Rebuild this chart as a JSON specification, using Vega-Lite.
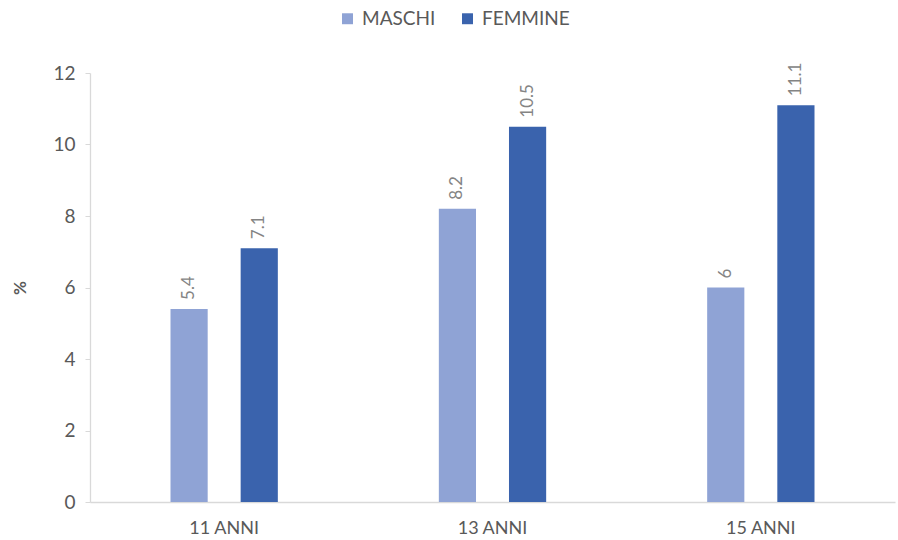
{
  "$schema": "https://vega.github.io/schema/vega-lite/v6.json",
  "autosize": "none",
  "padding": {"left": 90, "top": 73, "right": 3, "bottom": 38},
  "width": 805,
  "height": 429,
  "background": "white",
  "config": {
    "view": {"stroke": null},
    "font": "Lato",
    "axis": {"labelFont": "Lato", "titleFont": "Lato", "labelColor": "#595959", "titleColor": "#595959", "grid": false},
    "legend": {"labelFont": "Lato"}
  },
  "data": {
    "values": [
      {"age": "11 ANNI", "sex": "MASCHI", "value": 5.4},
      {"age": "11 ANNI", "sex": "FEMMINE", "value": 7.1},
      {"age": "13 ANNI", "sex": "MASCHI", "value": 8.2},
      {"age": "13 ANNI", "sex": "FEMMINE", "value": 10.5},
      {"age": "15 ANNI", "sex": "MASCHI", "value": 6},
      {"age": "15 ANNI", "sex": "FEMMINE", "value": 11.1}
    ]
  },
  "encoding": {
    "x": {
      "field": "age", "type": "nominal",
      "scale": {"paddingInner": 0.6, "paddingOuter": 0.3},
      "axis": {"title": null, "labelAngle": 0, "labelFontSize": 18, "labelPadding": 17, "ticks": false, "domainColor": "#D9D9D9", "domainWidth": 1.3}
    },
    "xOffset": {"field": "sex", "type": "nominal", "sort": ["MASCHI", "FEMMINE"], "scale": {"paddingInner": 0.47, "paddingOuter": 0}},
    "y": {
      "field": "value", "type": "quantitative",
      "scale": {"domain": [0, 12], "nice": false},
      "axis": {"title": "%", "titleFontSize": 17, "titleFontWeight": "bold", "titleAngle": -90, "titlePadding": 23, "values": [0, 2, 4, 6, 8, 10, 12], "labelFontSize": 19, "labelPadding": 10, "tickSize": 5, "tickColor": "#D9D9D9", "domainColor": "#D9D9D9", "domainWidth": 1.3}
    }
  },
  "layer": [
    {
      "mark": {"type": "bar"},
      "encoding": {
        "color": {
          "field": "sex", "type": "nominal", "sort": ["MASCHI", "FEMMINE"],
          "scale": {"domain": ["MASCHI", "FEMMINE"], "range": ["#8FA3D5", "#3A63AD"]},
          "legend": {"title": null, "orient": "none", "direction": "horizontal", "legendX": 248, "legendY": -64, "symbolType": "square", "symbolSize": 120, "symbolStrokeWidth": 0, "labelFontSize": 19, "labelColor": "#595959", "columnPadding": 22, "labelOffset": 5}
        }
      }
    },
    {
      "mark": {"type": "text", "angle": 270, "align": "left", "baseline": "middle", "dx": 9, "fontSize": 17, "color": "#848484"},
      "encoding": {"text": {"field": "value", "type": "quantitative"}}
    }
  ]
}
